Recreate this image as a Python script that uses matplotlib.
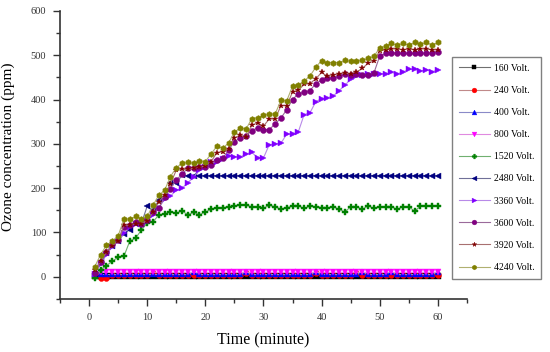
import matplotlib
matplotlib.use("Agg")
import matplotlib.pyplot as plt
from matplotlib.ticker import MultipleLocator

plt.rcParams.update({"font.family": ["Liberation Serif", "DejaVu Serif"], "font.size": 7.5})

# time axis, one reading per minute
minutes = list(range(1, 61))

v160 = [1, 2, 1, 1, 2, 1, 1, 2, 1, 1, 2, 1, 1, 2, 1, 1, 1, 2, 1, 1,
        2, 1, 1, 1, 2, 1, 1, 2, 1, 1, 1, 2, 1, 1, 2, 1, 1, 1, 2, 1,
        1, 2, 1, 1, 1, 2, 1, 1, 2, 1, 1, 1, 2, 1, 1, 2, 1, 1, 1, 2]
v240 = [5, -3, -3, 3, 3, 3, 3, 3, 3, 3, 8, 3, 3, 3, 3, 3, 3, 3, 3, 3,
        3, 3, 3, 3, 3, 3, 8, 3, 3, 3, 3, 3, 3, 3, 3, 3, 3, 3, 8, 3,
        3, 3, 3, 3, 3, 8, 3, 3, 3, 3, 3, 3, 3, 3, 3, 3, 3, 3, 3, 3]
v400 = [5, 5, 5, 5, 5, 5, 5, 5, 5, 5, 5, 5, 5, 5, 5, 5, 5, 10, 5, 5,
        5, 5, 5, 5, 5, 5, 10, 5, 5, 5, 5, 5, 5, 5, 5, 5, 5, 5, 10, 5,
        5, 5, 5, 5, 5, 5, 10, 5, 5, 5, 5, 10, 5, 5, 5, 5, 5, 5, 5, 10]
v800 = [3, 10, 10, 10, 10, 10, 10, 10, 10, 10, 10, 10, 10, 10, 10, 10, 10, 10, 10, 10,
        10, 10, 10, 10, 10, 10, 10, 10, 10, 10, 10, 10, 10, 10, 10, 10, 10, 10, 10, 10,
        10, 10, 10, 10, 10, 10, 10, 10, 10, 10, 10, 10, 10, 10, 10, 10, 10, 10, 10, 10]
v1520 = [-3, 16, 25, 35, 44, 46, 80, 87, 105, 121, 124, 139, 142, 146, 144, 148, 140, 145, 140, 146,
         152, 155, 155, 158, 160, 161, 161, 158, 158, 155, 161, 158, 152, 156, 159, 160, 154, 159, 158, 156,
         155, 158, 152, 146, 158, 158, 152, 160, 154, 158, 158, 158, 152, 158, 158, 148, 159, 159, 159, 160]
v2480 = [7, 36, 53, 70, 80, 97, 106, 120, 120, 159, 150, 173, 180, 211, 211, 229, 228, 228, 228, 228,
         228, 228, 228, 228, 228, 228, 228, 228, 228, 228, 228, 228, 228, 228, 228, 228, 228, 228, 228, 228,
         228, 228, 228, 228, 228, 228, 228, 228, 228, 228, 228, 228, 228, 228, 228, 228, 228, 228, 228, 228]
v3360 = [5, 28, 50, 68, 80, 98, 112, 118, 120, 125, 140, 155, 175, 182, 195, 200, 212, 225, 240, 247,
         258, 260, 265, 273, 271, 270, 277, 281, 268, 268, 298, 300, 301, 322, 322, 327, 366, 370, 395, 402,
         404, 408, 420, 432, 446, 452, 456, 457, 458, 458, 458, 461, 458, 462, 468, 468, 464, 467, 463, 466]
v3600 = [8, 33, 55, 73, 82, 112, 117, 123, 120, 127, 146, 154, 180, 199, 218, 232, 245, 245, 247, 247,
         252, 264, 267, 286, 305, 313, 318, 330, 336, 332, 332, 345, 358, 377, 400, 413, 417, 420, 436, 444,
         448, 449, 452, 457, 455, 457, 455, 455, 460, 498, 504, 506, 504, 504, 504, 504, 504, 504, 506, 508]
v3920 = [14, 36, 55, 70, 80, 116, 117, 120, 120, 126, 146, 169, 184, 210, 240, 242, 242, 245, 248, 250,
         260, 280, 282, 288, 313, 320, 315, 342, 347, 340, 356, 356, 386, 386, 417, 421, 434, 436, 447, 461,
         452, 455, 458, 460, 458, 462, 470, 482, 487, 510, 512, 514, 514, 512, 514, 512, 514, 514, 512, 512]
v4240 = [23, 50, 71, 80, 92, 130, 130, 136, 131, 136, 161, 184, 195, 226, 246, 256, 258, 256, 261, 260,
         277, 295, 290, 302, 326, 336, 333, 357, 359, 364, 367, 367, 398, 397, 430, 433, 442, 453, 473, 488,
         483, 483, 483, 489, 486, 486, 489, 493, 498, 516, 521, 527, 523, 527, 523, 529, 525, 529, 523, 529]

labels = ["160 Volt.", "240 Volt.", "400 Volt.", "800 Volt.", "1520 Volt.",
          "2480 Volt.", "3360 Volt.", "3600 Volt.", "3920 Volt.", "4240 Volt."]
series = [v160, v240, v400, v800, v1520, v2480, v3360, v3600, v3920, v4240]

# (marker, marker colour, line colour)
styles = [
    ("s", "#000000", "#707070"),
    ("o", "#ff0000", "#c08a8a"),
    ("^", "#0000ff", "#8a8ac8"),
    ("v", "#ff00ff", "#e08ae0"),
    ("P", "#008000", "#70b070"),
    ("<", "#000080", "#707098"),
    (">", "#8000ff", "#b88ae8"),
    ("o", "#800080", "#9a6a9a"),
    ("*", "#800000", "#a87070"),
    ("h", "#808000", "#b0b070"),
]

fig = plt.figure(figsize=(5.5, 3.52), dpi=100)
ax = fig.add_axes([0.109, 0.151, 0.74, 0.818])

handles = []
for ys, lab, (mk, mc, lc) in zip(series, labels, styles):
    h, = ax.plot(minutes, ys, color=lc, lw=0.8, marker=mk, markersize=4.3,
                 markerfacecolor=mc, markeredgecolor=mc, markeredgewidth=0.3,
                 label=lab)
    handles.append(h)

ax.set_xlim(-5, 65)
ax.set_ylim(-50, 600)
ax.xaxis.set_minor_locator(MultipleLocator(5))
ax.yaxis.set_minor_locator(MultipleLocator(50))
ax.set_xticks(range(0, 61, 10))
ax.set_yticks(range(0, 601, 100))

for side in ("top", "right"):
    ax.spines[side].set_visible(False)
for side in ("left", "bottom"):
    ax.spines[side].set_linewidth(1.2)
    ax.spines[side].set_color("#333333")

ax.tick_params(which="major", direction="out", length=5, width=1, color="#333333",
               labelsize=7.5, labelcolor="#333333", pad=5)
ax.tick_params(which="minor", direction="out", length=3, width=1, color="#333333")

ax.set_xlabel("Time (minute)", fontsize=11.5, labelpad=8)
ax.set_ylabel("Ozone concentration (ppm)", fontsize=11)
ax.yaxis.set_label_coords(-0.11, 0.528)

leg = fig.legend(handles=handles, loc="upper left",
                 bbox_to_anchor=(452 / 550, 1 - 57 / 352), fontsize=7,
                 handlelength=3.2, labelspacing=1.35, borderpad=0.7,
                 borderaxespad=0, handletextpad=0.4, fancybox=False,
                 framealpha=1, markerscale=0.8)
leg.get_frame().set_edgecolor("#808080")
leg.get_frame().set_linewidth(1.0)

fig.savefig("out.png", dpi=100, facecolor="white")
